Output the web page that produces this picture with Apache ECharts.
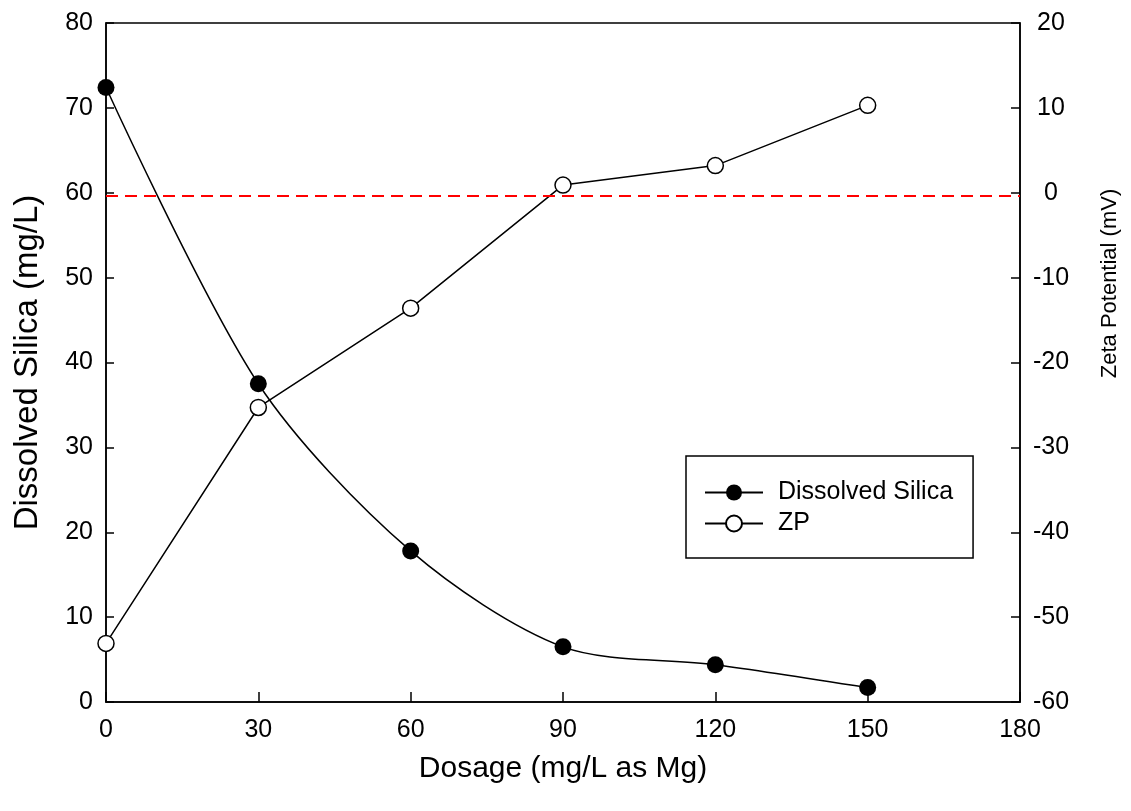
<!DOCTYPE html>
<html>
<head>
<meta charset="utf-8">
<title>Dissolved Silica and ZP vs Dosage</title>
<script src="https://cdn.jsdelivr.net/npm/echarts@6/dist/echarts.min.js"></script>
<style>
  html, body { margin: 0; padding: 0; background: #fff; }
  #chart { width: 1131px; height: 811px; }
</style>
</head>
<body>
<div id="chart"></div>
<script>
// Data
const dosage = [0, 30, 60, 90, 120, 150];
const silica = [72.4, 37.5, 17.8, 6.5, 4.4, 1.7];
const zp = [-53.1, -25.3, -13.6, 0.9, 3.2, 10.3];
const zeroLine = -0.4;

const FONT = '"Liberation Sans", Arial, sans-serif';

function pairs(xs, ys) {
    return xs.map((x, i) => [x, ys[i]]);
}

const chart = echarts.init(document.getElementById('chart'));

const option = {
    backgroundColor: '#fff',
    animation: false,
    textStyle: { fontFamily: FONT, color: '#000' },
    grid: {
        left: 106, right: 111, top: 23, bottom: 109,
        show: true, borderColor: '#000', borderWidth: 1.5, backgroundColor: 'transparent'
    },
    legend: {
        orient: 'vertical',
        left: 686, top: 456,
        padding: [24, 20, 22, 18],
        itemWidth: 58, itemHeight: 20, itemGap: 6,
        borderColor: '#000', borderWidth: 1.5,
        textStyle: { fontFamily: FONT, fontSize: 25, color: '#000', padding: [0, 0, 0, 10] },
        data: ['Dissolved Silica', 'ZP']
    },
    xAxis: {
        type: 'value', min: 0, max: 180, interval: 30,
        name: 'Dosage (mg/L as Mg)', nameLocation: 'middle', nameGap: 52,
        nameTextStyle: { fontFamily: FONT, fontSize: 30, color: '#000' },
        axisLine: { show: true, lineStyle: { color: '#000', width: 1.5 } },
        axisTick: { show: true, inside: true, length: 10, lineStyle: { color: '#000', width: 1.5 } },
        axisLabel: { fontFamily: FONT, fontSize: 25, color: '#000', margin: 16 },
        splitLine: { show: false }
    },
    yAxis: [{
        type: 'value', min: 0, max: 80, interval: 10, position: 'left',
        name: 'Dissolved Silica (mg/L)', nameLocation: 'middle', nameGap: 62,
        nameTextStyle: { fontFamily: FONT, fontSize: 33, color: '#000' },
        axisLine: { show: true, lineStyle: { color: '#000', width: 1.5 } },
        axisTick: { show: true, inside: true, length: 8, lineStyle: { color: '#000', width: 1.5 } },
        axisLabel: { fontFamily: FONT, fontSize: 25, color: '#000', margin: 13 },
        splitLine: { show: false }
    }, {
        type: 'value', min: -60, max: 20, interval: 10, position: 'right',
        name: 'Zeta Potential (mV)', nameLocation: 'middle', nameGap: 79,
        nameTextStyle: { fontFamily: FONT, fontSize: 22, color: '#000', padding: [0, 0, 0, 158] },
        axisLine: { show: true, lineStyle: { color: '#000', width: 1.5 } },
        axisTick: { show: true, inside: true, length: 9, lineStyle: { color: '#000', width: 1.5 } },
        axisLabel: { fontFamily: FONT, fontSize: 25, color: '#000', margin: 31, align: 'center' },
        splitLine: { show: false }
    }],
    series: [{
        name: 'Dissolved Silica',
        type: 'line',
        yAxisIndex: 0,
        data: pairs(dosage, silica),
        smooth: 0.3,
        symbol: 'circle', symbolSize: 17,
        lineStyle: { color: '#000', width: 1.5 },
        itemStyle: { color: '#000', borderColor: '#000', borderWidth: 0 },
        z: 2
    }, {
        name: 'ZP',
        type: 'line',
        yAxisIndex: 1,
        data: pairs(dosage, zp),
        symbol: 'circle', symbolSize: 16,
        lineStyle: { color: '#000', width: 1.5 },
        itemStyle: { color: '#fff', borderColor: '#000', borderWidth: 1.5 },
        z: 3,
        markLine: {
            silent: true,
            symbol: 'none',
            label: { show: false },
            lineStyle: { color: '#ff0000', width: 2, type: [12, 7] },
            data: [{ yAxis: zeroLine }]
        }
    }]
};

chart.setOption(option);
window.addEventListener('resize', () => chart.resize());
</script>
</body>
</html>
